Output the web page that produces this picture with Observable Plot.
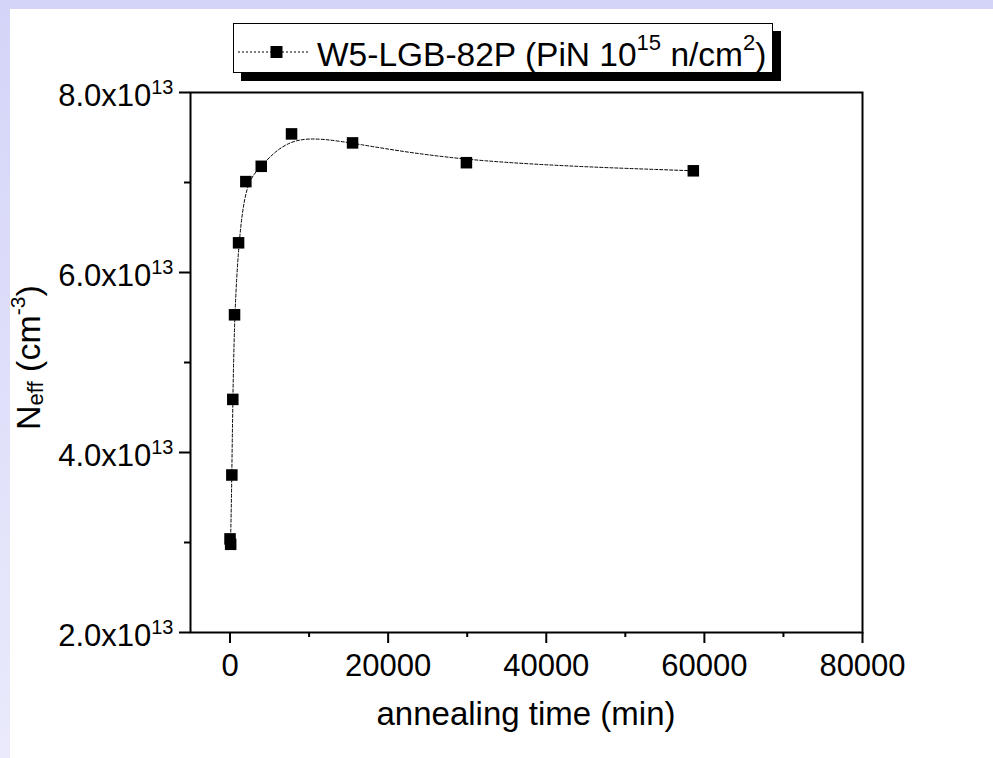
<!DOCTYPE html>
<html>
<head>
<meta charset="utf-8">
<script src="https://cdn.jsdelivr.net/npm/d3@7"></script>
<script src="https://cdn.jsdelivr.net/npm/@observablehq/plot@0.6"></script>
<style>
html,body{margin:0;padding:0;background:#fff;}
#page{position:relative;width:993px;height:758px;overflow:hidden;background:#fff;font-family:"Liberation Sans",Arial,Helvetica,sans-serif;}
#bandTop{position:absolute;left:0;top:0;width:993px;height:9px;background:#d4d4f8;}
#bandLeft{position:absolute;left:0;top:0;width:10px;height:758px;background:linear-gradient(#d4d4f8,#eaeafc);}
#chart{position:absolute;left:0;top:0;}
#legend{position:absolute;left:233px;top:23px;width:540px;height:50px;box-sizing:border-box;border:1px solid #000;background:#fff;box-shadow:8px 8px 0 #000;}
#legend svg{position:absolute;left:0;top:0;}
</style>
</head>
<body>
<div id="page">
  <div id="bandTop"></div>
  <div id="bandLeft"></div>
  <div id="chart"></div>
  <div id="legend"></div>
</div>
<script>
// ---- data ----
const annealingTime = [0, 80, 230, 350, 570, 1080, 2000, 3950, 7780, 15500, 29900, 58600];
const neffValues = [3.04e13, 2.98e13, 3.75e13, 4.59e13, 5.53e13, 6.33e13, 7.01e13, 7.18e13, 7.54e13, 7.44e13, 7.22e13, 7.13e13];
const xMajorTicks = [0, 20000, 40000, 60000, 80000];
const xMinorTicks = [10000, 30000, 50000, 70000];
const yMajorTicks = [2e13, 4e13, 6e13, 8e13];
const yMinorTicks = [3e13, 5e13, 7e13];
const xTitle = "annealing time (min)";
const yTitleParts = [["N", ""], ["eff", "sub"], [" (cm", ""], ["-3", "sup"], [")", ""]];
const legendParts = [["W5-LGB-82P (PiN 10", ""], ["15", "sup"], [" n/cm", ""], ["2", "sup"], [")", ""]];

const data = annealingTime.map((t, i) => ({t, n: neffValues[i]}));
const FONT = '"Liberation Sans", Arial, Helvetica, sans-serif';
const NS = "http://www.w3.org/2000/svg";

const chart = Plot.plot({
  width: 993,
  height: 758,
  marginLeft: 190,
  marginRight: 131,
  marginTop: 92,
  marginBottom: 126,
  style: {background: "transparent", fontFamily: FONT, fontSize: "31px", color: "#000", overflow: "visible"},
  x: {domain: [-5000, 80000], label: null},
  y: {domain: [2e13, 8e13], label: null},
  marks: [
    Plot.line(data, {x: "t", y: "n", curve: "basis", stroke: "#000", strokeWidth: 1, strokeDasharray: "3,2"}),
    Plot.dot(data, {x: "t", y: "n", symbol: "square", r: 6.5, fill: "#000", stroke: "none"}),
    Plot.axisX({ticks: xMajorTicks, tickSize: 11, tickPadding: 10, strokeWidth: 2, tickFormat: d => String(d), label: null}),
    Plot.axisX({ticks: xMinorTicks, tickSize: 5, strokeWidth: 2, tickFormat: () => "", label: null}),
    Plot.axisY({ticks: yMajorTicks, tickSize: 11, tickPadding: 6, strokeWidth: 2, tickFormat: d => (d / 1e13).toFixed(1) + "x10|13", label: null}),
    Plot.axisY({ticks: yMinorTicks, tickSize: 6, strokeWidth: 2, tickFormat: () => "", label: null}),
    Plot.frame({stroke: "#000", strokeWidth: 2})
  ]
});
document.getElementById("chart").appendChild(chart);

// superscript exponents on y tick labels
chart.querySelectorAll("text").forEach(t => {
  const s = t.textContent;
  if (s.includes("|")) {
    const [base, sup] = s.split("|");
    t.textContent = base;
    t.setAttribute("dy", "0.12em");
    const ts = document.createElementNS(NS, "tspan");
    ts.setAttribute("font-size", "20");
    ts.setAttribute("dy", "-12.6");
    ts.textContent = sup;
    t.appendChild(ts);
  }
});

function addParts(textEl, parts, supSize, supShift, subSize, subShift) {
  let shift = 0;
  parts.forEach(([str, kind]) => {
    const ts = document.createElementNS(NS, "tspan");
    let target = 0;
    if (kind === "sup") { ts.setAttribute("font-size", supSize); target = -supShift; }
    if (kind === "sub") { ts.setAttribute("font-size", subSize); target = subShift; }
    ts.setAttribute("dy", String(target - shift));
    shift = target;
    ts.textContent = str;
    textEl.appendChild(ts);
  });
}

const xs = chart.scale("x"), ys = chart.scale("y");
const xMid = (xs.range[0] + xs.range[1]) / 2;
const yBottom = Math.max(...ys.range);
const xLeft = Math.min(...xs.range);

// x title
const xt = document.createElementNS(NS, "text");
xt.setAttribute("x", xMid);
xt.setAttribute("y", yBottom + 93);
xt.setAttribute("text-anchor", "middle");
xt.setAttribute("font-size", "33");
xt.setAttribute("font-family", FONT);
xt.setAttribute("fill", "#000");
xt.textContent = xTitle;
chart.appendChild(xt);

// y title
const yt = document.createElementNS(NS, "text");
yt.setAttribute("transform", `translate(${xLeft - 150},${yBottom - 202}) rotate(-90)`);
yt.setAttribute("text-anchor", "start");
yt.setAttribute("font-size", "34");
yt.setAttribute("font-family", FONT);
yt.setAttribute("fill", "#000");
addParts(yt, yTitleParts, "21", 15, "22", 3);
chart.appendChild(yt);

// legend
const lg = d3.select("#legend").append("svg").attr("width", 538).attr("height", 48);
lg.append("line").attr("x1", 4).attr("x2", 76).attr("y1", 28).attr("y2", 28)
  .attr("stroke", "#000").attr("stroke-width", 1).attr("stroke-dasharray", "2,2");
lg.append("rect").attr("x", 36.5).attr("y", 22).attr("width", 12).attr("height", 12).attr("fill", "#000");
const lt = lg.append("text").attr("x", 83).attr("y", 42).attr("font-size", 33.5)
  .attr("font-family", FONT).attr("fill", "#000").node();
addParts(lt, legendParts, "22", 15.7, "22", 0);
</script>
</body>
</html>
